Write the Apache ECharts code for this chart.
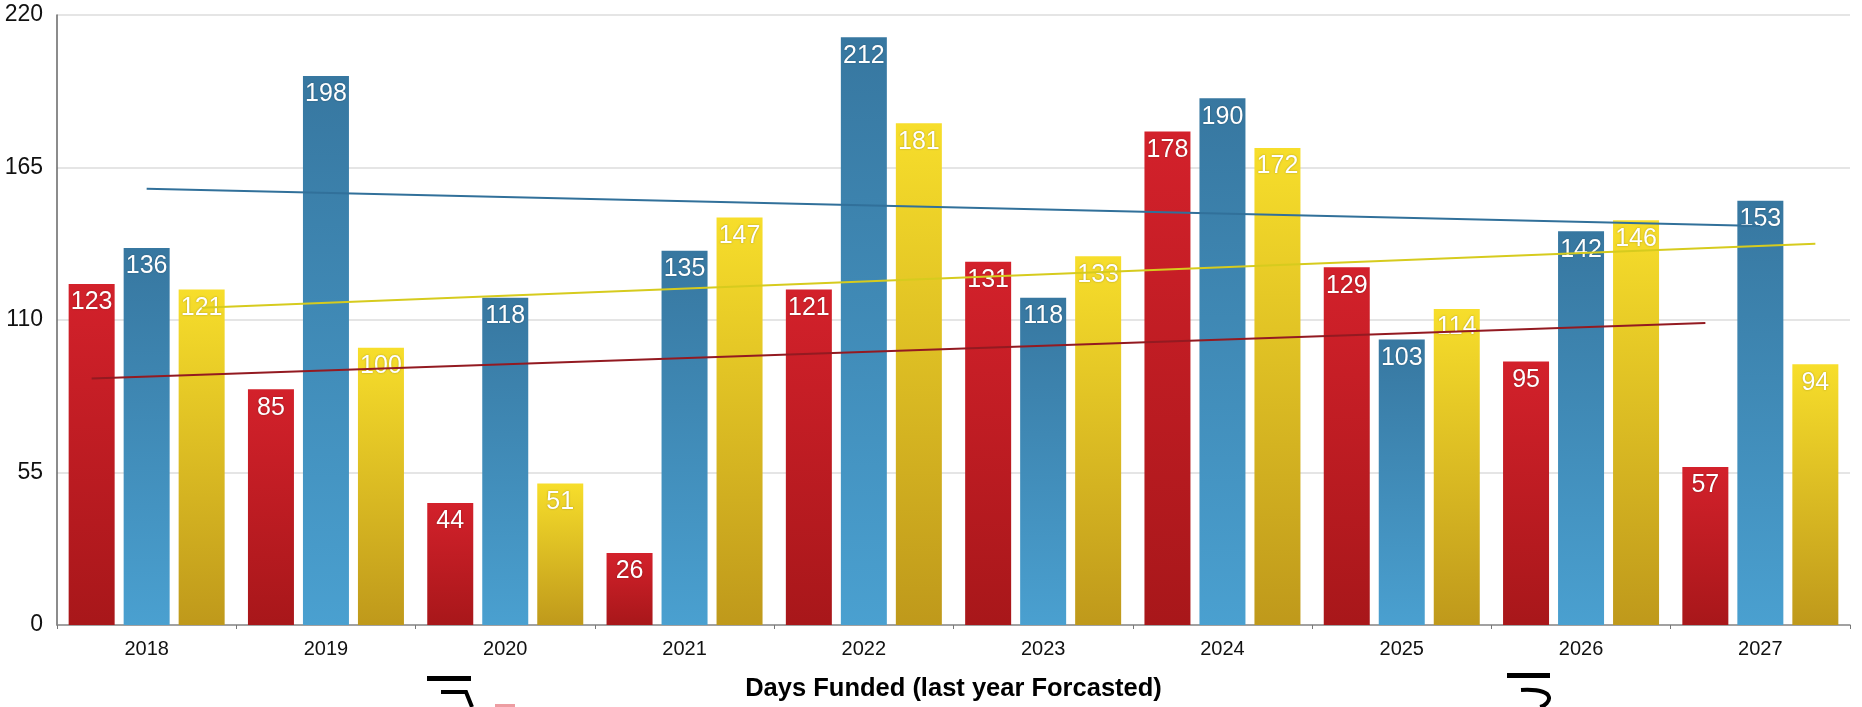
<!DOCTYPE html>
<html>
<head>
<meta charset="utf-8">
<script src="https://cdn.jsdelivr.net/npm/echarts@6/dist/echarts.min.js"></script>
<style>html,body{margin:0;padding:0;background:#fff;}#c{width:1862px;height:707px;}</style>
</head>
<body>
<div id="c"></div>
<script>
var categories = ['2018','2019','2020','2021','2022','2023','2024','2025','2026','2027'];
var redValues    = [123, 85, 44, 26, 121, 131, 178, 129, 95, 57];
var blueValues   = [136, 198, 118, 135, 212, 118, 190, 103, 142, 153];
var yellowValues = [121, 100, 51, 147, 181, 133, 172, 114, 146, 94];
// trend line end values (first year, last year)
var redTrend    = [88.9, 108.9];
var blueTrend   = [157.3, 143.9];
var yellowTrend = [114.4, 137.5];
var yTicks = [0, 55, 110, 165, 220];
var axisTitle = 'Days Funded (last year Forcasted)';

var W = 1862, H = 707;
var gridL = 57, gridR = 12, gridT = 15, gridB = 69;
var barW = 46, barGapPx = 9;
var catW = (W - gridL - gridR) / categories.length;
var off = (barW + barGapPx) / catW;
var font = '"Liberation Sans", Arial, Helvetica, sans-serif';

function grad(top, bottom) {
  return new echarts.graphic.LinearGradient(0, 0, 0, 1, [
    {offset: 0, color: top}, {offset: 1, color: bottom}
  ]);
}
var barLabel = {
  show: true, position: 'insideTop', distance: 6,
  color: '#fff', fontSize: 25, fontFamily: font,
  textShadowColor: 'rgba(0,0,0,0.3)', textShadowBlur: 2
};
function barSeries(name, vals, top, bottom) {
  return {
    name: name, type: 'bar', data: vals, barWidth: barW,
    barGap: (barGapPx / barW * 100) + '%',
    itemStyle: {color: grad(top, bottom)},
    label: barLabel, z: 2
  };
}
function trendSeries(vals, pos, color) {
  var n = categories.length - 1;
  return {
    type: 'line', xAxisIndex: 1, symbol: 'none', silent: true, z: 3,
    lineStyle: {color: color, width: 2},
    data: [[0 + pos, vals[0]], [n + pos, vals[1]]]
  };
}

var chart = echarts.init(document.getElementById('c'), null, {renderer: 'canvas'});
chart.setOption({
  animation: false,
  backgroundColor: '#fff',
  grid: {left: gridL, right: gridR, top: gridT, bottom: gridB, containLabel: false},
  xAxis: [{
    type: 'category', data: categories,
    axisLine: {show: true, lineStyle: {color: '#8a8a8a', width: 1.5}},
    axisTick: {show: true, length: 4, lineStyle: {color: '#777'}},
    axisLabel: {fontSize: 20, color: '#111', fontFamily: font, margin: 14},
    name: axisTitle, nameLocation: 'middle', nameGap: 51,
    nameTextStyle: {fontSize: 25.5, fontWeight: 'bold', color: '#000', fontFamily: font}
  }, {
    type: 'value', min: -0.5, max: categories.length - 0.5, show: false
  }],
  yAxis: {
    type: 'value', min: yTicks[0], max: yTicks[yTicks.length - 1], interval: yTicks[1] - yTicks[0],
    axisLine: {show: true, onZero: false, lineStyle: {color: '#666', width: 1.5}},
    axisTick: {show: false},
    axisLabel: {fontSize: 23, color: '#111', fontFamily: font, margin: 14},
    splitLine: {lineStyle: {color: '#dcdcdc', width: 1.5}}
  },
  series: [
    barSeries('Red', redValues, '#d3212b', '#a8171a'),
    barSeries('Blue', blueValues, '#3777a0', '#4aa0d0'),
    barSeries('Yellow', yellowValues, '#f7de2b', '#bf991b'),
    trendSeries(redTrend, -off, '#931a21'),
    trendSeries(blueTrend, 0, '#31709a'),
    trendSeries(yellowTrend, off, '#d6cb1e')
  ],
  graphic: [
    {type: 'rect', shape: {x: 427, y: 676, width: 44, height: 5}, style: {fill: '#000'}},
    {type: 'polyline', shape: {points: [[441, 692], [466, 692], [472, 707]]}, style: {stroke: '#000', lineWidth: 4, fill: null}},
    {type: 'rect', shape: {x: 495, y: 704, width: 20, height: 3}, style: {fill: 'rgba(220,60,70,0.5)'}},
    {type: 'rect', shape: {x: 1507, y: 673, width: 43, height: 5}, style: {fill: '#000'}},
    {type: 'bezierCurve', shape: {x1: 1521, y1: 690, cpx1: 1560, cpy1: 688, cpx2: 1550, cpy2: 705, x2: 1540, y2: 707}, style: {stroke: '#000', lineWidth: 4, fill: null}}
  ]
});
</script>
</body>
</html>
